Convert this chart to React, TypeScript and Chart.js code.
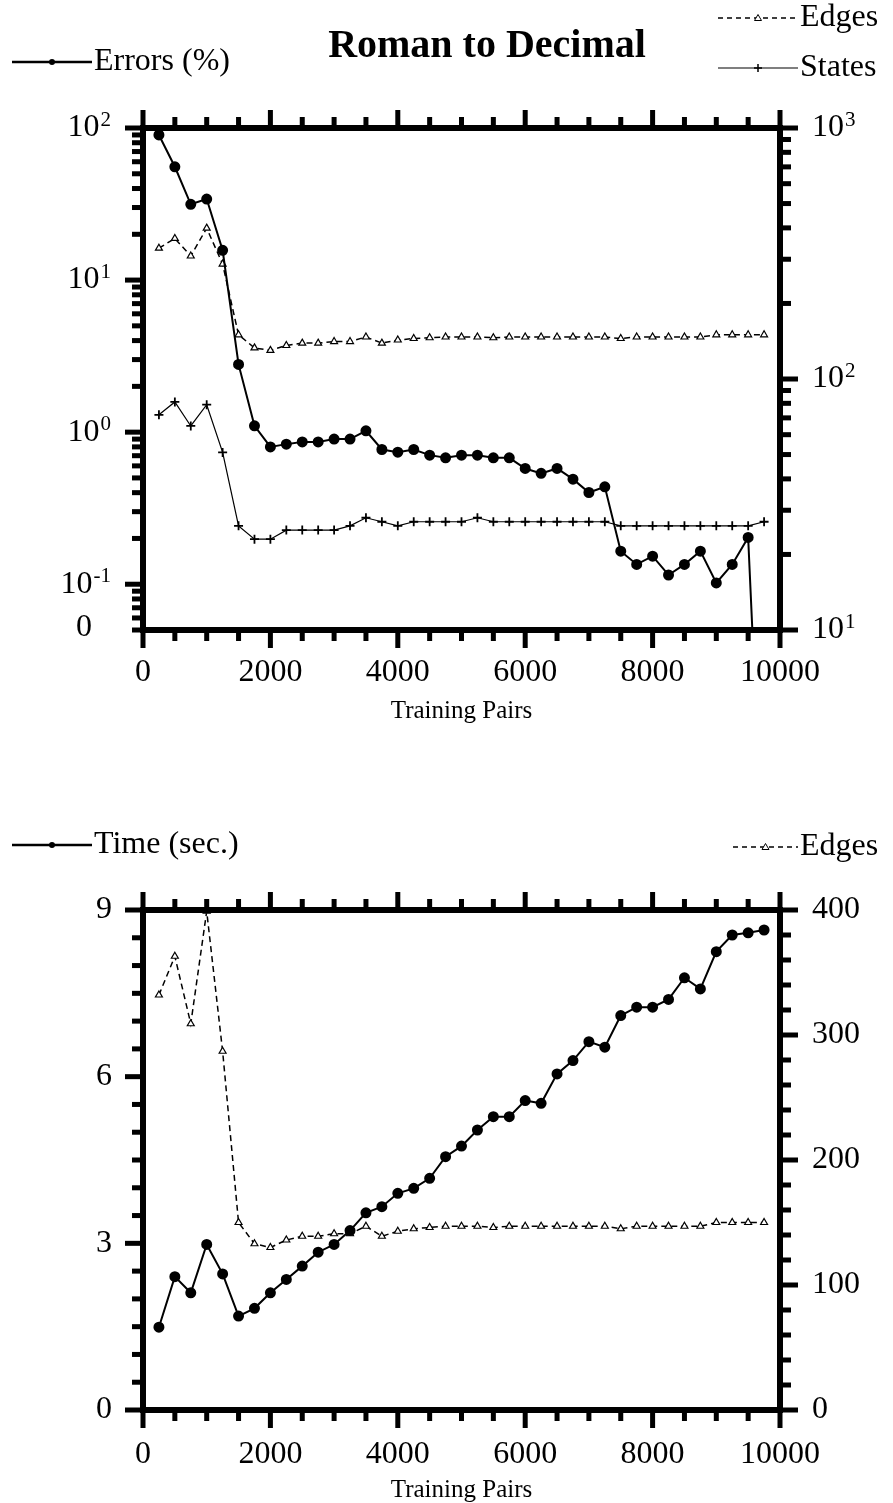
import React, { useEffect, useRef } from 'react';
import { Chart, registerables } from 'chart.js';

Chart.register(...registerables);

// ---------------- DATA ----------------
const trainingPairs = [
  250, 500, 750, 1000, 1250, 1500, 1750, 2000, 2250, 2500, 2750, 3000, 3250,
  3500, 3750, 4000, 4250, 4500, 4750, 5000, 5250, 5500, 5750, 6000, 6250,
  6500, 6750, 7000, 7250, 7500, 7750, 8000, 8250, 8500, 8750, 9000, 9250,
  9500, 9750,
];

const errorsPct = [
  90, 55.6, 31.5, 34.1, 15.7, 2.79, 1.1, 0.8, 0.834, 0.863, 0.863, 0.9, 0.9,
  1.02, 0.769, 0.738, 0.769, 0.706, 0.678, 0.706, 0.706, 0.678, 0.678, 0.577,
  0.536, 0.577, 0.491, 0.401, 0.437, 0.165, 0.135, 0.153, 0.115, 0.135, 0.165,
  0.102, 0.135, 0.203, 0.001,
];

const edgesCount = [
  332, 363, 309, 399, 287, 150, 133, 130, 136, 139, 139, 141, 141, 147, 139,
  143, 145, 146, 147, 147, 147, 146, 147, 147, 147, 147, 147, 147, 147, 145,
  147, 147, 147, 147, 147, 150, 150, 150, 150,
];

const statesCount = [
  72, 81, 65, 79, 51, 26, 23, 23, 25, 25, 25, 25, 26, 28, 27, 26, 27, 27, 27,
  27, 28, 27, 27, 27, 27, 27, 27, 27, 27, 26, 26, 26, 26, 26, 26, 26, 26, 26,
  27,
];

const timeSec = [
  1.49, 2.4, 2.11, 2.98, 2.45, 1.69, 1.83, 2.11, 2.35, 2.59, 2.84, 2.98, 3.23,
  3.55, 3.66, 3.9, 3.99, 4.17, 4.56, 4.75, 5.04, 5.28, 5.28, 5.57, 5.52, 6.05,
  6.29, 6.63, 6.53, 7.1, 7.25, 7.25, 7.39, 7.78, 7.58, 8.25, 8.55, 8.59, 8.64,
];

const xTickValues = [0, 2000, 4000, 6000, 8000, 10000];
const xTickLabels = ['0', '2000', '4000', '6000', '8000', '10000'];
const errorsDecades = [-1, 0, 1, 2];
const countDecades = [1, 2, 3];
const timeTickValues = [0, 3, 6, 9];
const timeTickLabels = ['0', '3', '6', '9'];
const edgesTickValues = [0, 100, 200, 300, 400];
const edgesTickLabels = ['0', '100', '200', '300', '400'];

const titleText = 'Roman to Decimal';
const xTitle = 'Training Pairs';

// ---------------- DRAW HELPERS ----------------
const FONT = '"Liberation Serif", "Times New Roman", serif';
const LW = 6; // axis line width
const TW = 5; // tick width
const MAJ = 15;
const MIN = 8;

function frame(ctx: CanvasRenderingContext2D, a: any) {
  ctx.fillStyle = '#000';
  const w = a.right - a.left + LW;
  const h = a.bottom - a.top + LW;
  ctx.fillRect(a.left - LW / 2, a.top - LW / 2, w, LW);
  ctx.fillRect(a.left - LW / 2, a.bottom - LW / 2, w, LW);
  ctx.fillRect(a.left - LW / 2, a.top - LW / 2, LW, h);
  ctx.fillRect(a.right - LW / 2, a.top - LW / 2, LW, h);
}

function xTicks(ctx: CanvasRenderingContext2D, a: any, sx: any) {
  for (let v = 0; v <= 10000; v += 500) {
    const p = sx.getPixelForValue(v);
    const len = v % 2000 === 0 ? MAJ : MIN;
    ctx.fillRect(p - TW / 2, a.top - LW / 2 - len, TW, len);
    ctx.fillRect(p - TW / 2, a.bottom + LW / 2, TW, len);
  }
}

function yTick(ctx: CanvasRenderingContext2D, a: any, p: number, major: boolean, side: 'left' | 'right') {
  const len = major ? MAJ : MIN;
  if (side === 'left') ctx.fillRect(a.left - LW / 2 - len, p - TW / 2, len, TW);
  else ctx.fillRect(a.right + LW / 2, p - TW / 2, len, TW);
}

function logTickList(min: number, max: number) {
  const out: { v: number; major: boolean }[] = [];
  for (let e = Math.floor(Math.log10(min)); e <= Math.ceil(Math.log10(max)); e++) {
    for (let m = 1; m <= 9; m++) {
      const v = m * Math.pow(10, e);
      if (v >= min * 0.9999 && v <= max * 1.0001) out.push({ v, major: m === 1 });
    }
  }
  return out;
}

function pow10Label(ctx: CanvasRenderingContext2D, exp: string, x: number, y: number, align: 'left' | 'right') {
  ctx.textBaseline = 'middle';
  ctx.textAlign = 'left';
  ctx.font = `32px ${FONT}`;
  const wb = ctx.measureText('10').width;
  ctx.font = `21px ${FONT}`;
  const we = ctx.measureText(exp).width;
  const x0 = align === 'right' ? x - wb - we - 1 : x;
  ctx.font = `32px ${FONT}`;
  ctx.fillText('10', x0, y);
  ctx.font = `21px ${FONT}`;
  ctx.fillText(exp, x0 + wb + 1, y - 8);
}

function text(ctx: CanvasRenderingContext2D, s: string, x: number, y: number, size: number, align: CanvasTextAlign, bold = false) {
  ctx.font = `${bold ? 'bold ' : ''}${size}px ${FONT}`;
  ctx.textAlign = align;
  ctx.textBaseline = 'middle';
  ctx.fillText(s, x, y);
}

function marker(ctx: CanvasRenderingContext2D, kind: string, x: number, y: number) {
  ctx.save();
  ctx.setLineDash([]);
  if (kind === 'circle') {
    ctx.beginPath();
    ctx.arc(x, y, 3, 0, Math.PI * 2);
    ctx.fill();
  } else if (kind === 'triangle') {
    ctx.lineWidth = 1;
    ctx.fillStyle = '#fff';
    ctx.beginPath();
    ctx.moveTo(x, y - 3.5);
    ctx.lineTo(x + 3.5, y + 2.5);
    ctx.lineTo(x - 3.5, y + 2.5);
    ctx.closePath();
    ctx.fill();
    ctx.stroke();
  } else if (kind === 'cross') {
    ctx.lineWidth = 1.5;
    ctx.beginPath();
    ctx.moveTo(x - 4, y);
    ctx.lineTo(x + 4, y);
    ctx.moveTo(x, y - 4);
    ctx.lineTo(x, y + 4);
    ctx.stroke();
  }
  ctx.restore();
}

function legendItem(
  ctx: CanvasRenderingContext2D,
  x1: number, x2: number, y: number, lw: number, dash: number[], kind: string, label: string,
) {
  ctx.save();
  ctx.strokeStyle = '#000';
  ctx.fillStyle = '#000';
  ctx.lineWidth = lw;
  ctx.setLineDash(dash);
  ctx.beginPath();
  ctx.moveTo(x1, y);
  ctx.lineTo(x2, y);
  ctx.stroke();
  marker(ctx, kind, (x1 + x2) / 2, y);
  text(ctx, label, x2 + 2, y, 32, 'left');
  ctx.restore();
}

function xLabels(ctx: CanvasRenderingContext2D, sx: any, yLab: number, yTitle: number) {
  xTickValues.forEach((v, i) => text(ctx, xTickLabels[i], sx.getPixelForValue(v), yLab, 32, 'center'));
  text(ctx, xTitle, (sx.left + sx.right) / 2, yTitle, 25, 'center');
}

// ---------------- PLUGINS ----------------
const topDecor = {
  id: 'topDecor',
  afterDraw(chart: any) {
    const ctx = chart.ctx as CanvasRenderingContext2D;
    const a = chart.chartArea;
    const sx = chart.scales.x;
    const sl = chart.scales.yErr;
    const sr = chart.scales.yCount;
    ctx.save();
    frame(ctx, a);
    xTicks(ctx, a, sx);
    logTickList(sl.min, sl.max).forEach((t) => yTick(ctx, a, sl.getPixelForValue(t.v), t.major, 'left'));
    logTickList(sr.min, sr.max).forEach((t) => yTick(ctx, a, sr.getPixelForValue(t.v), t.major, 'right'));
    errorsDecades.forEach((e) => pow10Label(ctx, String(e), 111, sl.getPixelForValue(Math.pow(10, e)), 'right'));
    text(ctx, '0', 84, a.bottom - 2, 32, 'center');
    countDecades.forEach((e) => pow10Label(ctx, String(e), 812, sr.getPixelForValue(Math.pow(10, e)), 'left'));
    xLabels(ctx, sx, 673, 711);
    text(ctx, titleText, 487, 47, 40, 'center', true);
    legendItem(ctx, 12, 92, 62, 2.5, [], 'circle', 'Errors (%)');
    legendItem(ctx, 718, 798, 18, 1.4, [5, 4], 'triangle', 'Edges');
    legendItem(ctx, 718, 798, 68, 1.2, [], 'cross', 'States');
    ctx.restore();
  },
};

const bottomDecor = {
  id: 'bottomDecor',
  afterDraw(chart: any) {
    const ctx = chart.ctx as CanvasRenderingContext2D;
    const a = chart.chartArea;
    const sx = chart.scales.x;
    const sl = chart.scales.yTime;
    const sr = chart.scales.yEdges;
    ctx.save();
    frame(ctx, a);
    xTicks(ctx, a, sx);
    for (let v = 0; v <= 9; v += 0.5) yTick(ctx, a, sl.getPixelForValue(v), v % 3 === 0, 'left');
    for (let v = 0; v <= 400; v += 20) yTick(ctx, a, sr.getPixelForValue(v), v % 100 === 0, 'right');
    timeTickValues.forEach((v, i) => text(ctx, timeTickLabels[i], 112, sl.getPixelForValue(v), 32, 'right'));
    edgesTickValues.forEach((v, i) => text(ctx, edgesTickLabels[i], 812, sr.getPixelForValue(v), 32, 'left'));
    xLabels(ctx, sx, 695, 730);
    legendItem(ctx, 12, 92, 85, 2.5, [], 'circle', 'Time (sec.)');
    legendItem(ctx, 733, 798, 87, 1.4, [5, 4], 'triangle', 'Edges');
    ctx.restore();
  },
};

const pts = (ys: number[]) => trainingPairs.map((x, i) => ({ x, y: ys[i] }));

const baseOptions = (padding: any, scales: any) => ({
  responsive: false,
  animation: false as const,
  events: [] as any[],
  layout: { padding },
  plugins: { legend: { display: false }, title: { display: false }, tooltip: { enabled: false } },
  scales,
});

const xScale = { type: 'linear', min: 0, max: 10000, display: false };

const edgesStyle = {
  borderColor: '#000',
  backgroundColor: '#fff',
  borderWidth: 1.5,
  borderDash: [6, 4],
  pointRadius: 4,
  pointBorderWidth: 1.2,
  pointStyle: 'triangle',
  tension: 0,
};

// ---------------- COMPONENT ----------------
export default function App() {
  const topRef = useRef<HTMLCanvasElement>(null);
  const botRef = useRef<HTMLCanvasElement>(null);

  useEffect(() => {
    const top = new Chart(topRef.current as HTMLCanvasElement, {
      type: 'line',
      data: {
        datasets: [
          {
            label: 'Errors (%)',
            data: pts(errorsPct),
            yAxisID: 'yErr',
            borderColor: '#000',
            backgroundColor: '#000',
            borderWidth: 2,
            pointRadius: 4.5,
            pointStyle: 'circle',
            tension: 0,
          },
          {
            label: 'Edges',
            data: pts(edgesCount),
            yAxisID: 'yCount',
            ...edgesStyle,
          },
          {
            label: 'States',
            data: pts(statesCount),
            yAxisID: 'yCount',
            borderColor: '#000',
            backgroundColor: '#000',
            borderWidth: 1.2,
            pointRadius: 4.5,
            pointBorderWidth: 1.8,
            pointStyle: 'cross',
            tension: 0,
          },
        ],
      },
      options: baseOptions(
        { left: 143, top: 128, right: 113, bottom: 130 },
        {
          x: xScale,
          yErr: { type: 'logarithmic', position: 'left', min: 0.05, max: 100, display: false },
          yCount: { type: 'logarithmic', position: 'right', min: 10, max: 1000, display: false },
        },
      ) as any,
      plugins: [topDecor],
    });

    const bottom = new Chart(botRef.current as HTMLCanvasElement, {
      type: 'line',
      data: {
        datasets: [
          {
            label: 'Time (sec.)',
            data: pts(timeSec),
            yAxisID: 'yTime',
            borderColor: '#000',
            backgroundColor: '#000',
            borderWidth: 2,
            pointRadius: 4.5,
            pointStyle: 'circle',
            tension: 0,
          },
          {
            label: 'Edges',
            data: pts(edgesCount),
            yAxisID: 'yEdges',
            ...edgesStyle,
          },
        ],
      },
      options: baseOptions(
        { left: 143, top: 150, right: 113, bottom: 93 },
        {
          x: xScale,
          yTime: { type: 'linear', position: 'left', min: 0, max: 9, display: false },
          yEdges: { type: 'linear', position: 'right', min: 0, max: 400, display: false },
        },
      ) as any,
      plugins: [bottomDecor],
    });

    return () => {
      top.destroy();
      bottom.destroy();
    };
  }, []);

  return (
    <div style={{ position: 'absolute', left: 0, top: 0, width: 893, height: 1503, background: '#fff' }}>
      <canvas ref={topRef} width={893} height={760} style={{ display: 'block', width: 893, height: 760 }} />
      <canvas ref={botRef} width={893} height={743} style={{ display: 'block', width: 893, height: 743 }} />
    </div>
  );
}
